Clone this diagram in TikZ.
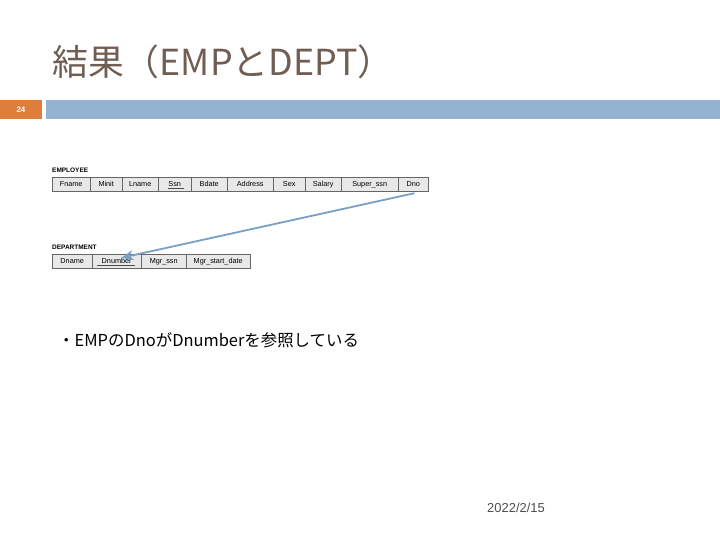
\documentclass[tikz,border=0pt]{standalone}
\usepackage{fontspec}
\setmainfont{Liberation Sans}
\newfontfamily\cjk{Noto Sans CJK JP}
\usetikzlibrary{positioning,arrows.meta}
\definecolor{titlebrown}{RGB}{112,94,84}
\definecolor{barblue}{RGB}{148,179,208}
\definecolor{barorange}{RGB}{222,125,60}
\definecolor{cellgray}{RGB}{232,232,232}
\definecolor{arrowblue}{RGB}{120,160,195}
\tikzset{
  cell/.style={draw=black!60, fill=cellgray, line width=0.4pt, minimum height=14bp,
    inner sep=0pt, anchor=west, text height=5.5bp, text depth=0bp,
    font=\fontsize{7.3}{8}\selectfont},
  tname/.style={anchor=south west, inner sep=0pt, font=\bfseries\fontsize{6.5}{7}\selectfont},
}
\begin{document}
\begin{tikzpicture}[x=1bp,y=-1bp]
    \useasboundingbox (0,0) rectangle (720,540);

    % title and bars
    \node[anchor=base west, inner sep=0pt, text=titlebrown, font=\cjk\fontsize{36}{40}\selectfont] (title) at (52,76) {結果（EMPとDEPT）};
    \fill[barorange] (0,100) rectangle (42,119);
    \node[text=white, font=\bfseries\fontsize{8}{9}\selectfont] (pageno) at (21,110) {24};
    \fill[barblue] (46,100) rectangle (720,119);

    % EMPLOYEE
    \node[tname] (emp) at (52,173) {EMPLOYEE};
    \foreach \name/\x/\w in {Fname/52/38, Minit/90/32, Lname/122/36, Ssn/158/33, Bdate/191/36,
        Address/227/46, Sex/273/32, Salary/305/36, Super\_ssn/341/57, Dno/398/30}
      \node[cell, minimum width=\w bp] (e-\x) at (\x,184) {\name};
    \draw[black!70, line width=0.3pt] (168,188.5) -- (184,188.5);

    % DEPARTMENT
    \node[tname] (dept) at (52,250) {DEPARTMENT};
    \foreach \name/\x/\w in {Dname/52/40, Dnumber/92/49, Mgr\_ssn/141/45, Mgr\_start\_date/186/64}
      \node[cell, minimum width=\w bp] (d-\x) at (\x,261) {\name};
    \draw[black!70, line width=0.3pt] (97,265.5) -- (135,265.5);

    % reference
    \draw[-{Stealth[length=12bp,width=10bp]}, arrowblue, line width=1.8pt] (e-398.south east) ++(-14,2) coordinate (a)
      (a) -- ([xshift=-20bp,yshift=-4bp]d-92.north east);

    \node[anchor=base west, inner sep=0pt, font=\cjk\fontsize{16.5}{19}\selectfont] (note) at (58,346) {・EMPのDnoがDnumberを参照している};
    \node[anchor=base west, inner sep=0pt, text=black!70, font=\fontsize{13}{15}\selectfont] (date) at (487,512) {2022/2/15};
\end{tikzpicture}
\end{document}
